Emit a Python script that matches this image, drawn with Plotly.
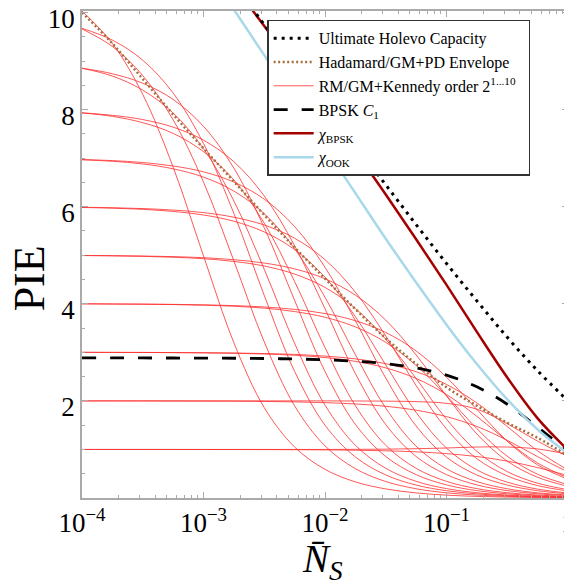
import plotly.graph_objects as go

# photon number grid (x) shared by most series
ns_grid = [1e-4, 1.778e-4, 3.162e-4, 5.623e-4, 1e-3, 1.778e-3, 3.162e-3, 5.623e-3,
           1e-2, 1.778e-2, 3.162e-2, 5.623e-2, 0.1, 0.1778, 0.3162, 0.5623, 1.0]

# Hadamard/GM+PD individual orders (red thin)
had_1 = [1.0, 1.0, 1.0, 0.999, 0.999, 0.998, 0.997, 0.995, 0.991, 0.984, 0.972, 0.951, 0.914, 0.854, 0.760, 0.626, 0.460]
had_2 = [2.0, 2.0, 1.999, 1.998, 1.996, 1.994, 1.989, 1.980, 1.964, 1.937, 1.889, 1.809, 1.676, 1.473, 1.188, 0.851, 0.535]
had_3 = [3.0, 2.998, 2.997, 2.994, 2.989, 2.981, 2.966, 2.940, 2.893, 2.815, 2.679, 2.462, 2.131, 1.682, 1.173, 0.721, 0.412]
had_4 = [4.0, 3.995, 3.991, 3.984, 3.971, 3.949, 3.910, 3.840, 3.722, 3.524, 3.205, 2.731, 2.106, 1.429, 0.860, 0.488, 0.275]
had_5 = [4.993, 4.987, 4.977, 4.959, 4.928, 4.872, 4.778, 4.612, 4.337, 3.903, 3.268, 2.461, 1.624, 0.960, 0.543, 0.305, 0.172]
had_6 = [5.983, 5.969, 5.945, 5.902, 5.829, 5.700, 5.479, 5.117, 4.547, 3.736, 2.741, 1.763, 1.027, 0.579, 0.326, 0.183, 0.103]
had_7 = [6.965, 6.935, 6.880, 6.780, 6.609, 6.321, 5.856, 5.135, 4.134, 2.953, 1.852, 1.067, 0.601, 0.338, 0.190, 0.107, 0.060]
had_8 = [7.930, 7.860, 7.730, 7.510, 7.134, 6.550, 5.660, 4.459, 3.099, 1.900, 1.085, 0.611, 0.343, 0.193, 0.109, 0.061, 0.034]
had_9 = [8.850, 8.690, 8.400, 7.930, 7.194, 6.119, 4.709, 3.185, 1.913, 1.086, 0.611, 0.344, 0.193, 0.109, 0.061, 0.034, 0.019]
had_10 = [9.660, 9.300, 8.700, 7.790, 6.506, 4.884, 3.215, 1.898, 1.073, 0.604, 0.339, 0.191, 0.107, 0.060, 0.034, 0.019, 0.011]
had_11 = [10.03, 9.363, 8.312, 6.816, 4.986, 3.199, 1.861, 1.050, 0.590, 0.332, 0.187, 0.105, 0.059, 0.033, 0.019, 0.011, 0.006]

# RM/GM+Kennedy orders 2^1..2^10 (red thin)
rm_1 = [1.0, 1.0, 1.0, 1.0, 1.0, 1.0, 1.0, 1.0, 1.0, 1.002, 1.006, 1.015, 1.03, 1.05, 1.05, 1.01, 0.90]
rm_2 = [2.0, 2.0, 2.0, 2.0, 2.0, 2.0, 2.0, 2.0, 2.0, 1.998, 1.995, 1.985, 1.95, 1.83, 1.53, 1.17, 0.85]
rm_3 = [3.0, 2.999, 2.998, 2.996, 2.992, 2.986, 2.975, 2.957, 2.923, 2.865, 2.766, 2.601, 2.339, 1.958, 1.472, 0.971, 0.574]
rm_4 = [3.999, 3.996, 3.993, 3.988, 3.979, 3.963, 3.934, 3.885, 3.799, 3.652, 3.409, 3.029, 2.487, 1.823, 1.171, 0.682, 0.385]
rm_5 = [4.995, 4.991, 4.984, 4.971, 4.949, 4.908, 4.839, 4.719, 4.515, 4.179, 3.664, 2.947, 2.104, 1.318, 0.759, 0.427, 0.240]
rm_6 = [5.988, 5.978, 5.961, 5.930, 5.878, 5.783, 5.622, 5.350, 4.909, 4.240, 3.337, 2.317, 1.420, 0.810, 0.456, 0.256, 0.144]
rm_7 = [6.971, 6.949, 6.909, 6.838, 6.717, 6.507, 6.155, 5.590, 4.752, 3.653, 2.469, 1.482, 0.841, 0.473, 0.266, 0.150, 0.084]
rm_8 = [7.934, 7.881, 7.794, 7.638, 7.370, 6.926, 6.221, 5.196, 3.897, 2.563, 1.513, 0.855, 0.481, 0.270, 0.152, 0.086, 0.048]
rm_9 = [8.852, 8.738, 8.542, 8.208, 7.655, 6.793, 5.567, 4.070, 2.607, 1.517, 0.855, 0.481, 0.270, 0.152, 0.086, 0.048, 0.027]
rm_10 = [9.674, 9.431, 9.017, 8.340, 7.302, 5.861, 4.172, 2.608, 1.500, 0.845, 0.475, 0.267, 0.150, 0.085, 0.048, 0.027, 0.015]

# Hadamard/GM+PD envelope (brown dotted)
envelope = [10.0, 9.36, 8.63, 7.90, 7.20, 6.52, 5.83, 5.16, 4.52, 3.89, 3.29, 2.76, 2.28, 1.90, 1.55, 1.24, 0.87]

# BPSK C1 (black dashed)
bpsk_c1 = [2.885, 2.884, 2.884, 2.883, 2.881, 2.878, 2.873, 2.863, 2.846, 2.817, 2.767, 2.678, 2.530, 2.290, 1.931, 1.459, 0.958]

# high-N grid for the capacity curves that enter from the top
ns_high = [1e-3, 1.778e-3, 3.162e-3, 5.623e-3, 1e-2, 1.778e-2, 3.162e-2, 5.623e-2,
           0.1, 0.1778, 0.3162, 0.5623, 1.0]
holevo = [11.41, 10.58, 9.75, 8.92, 8.09, 7.27, 6.45, 5.63, 4.83, 4.06, 3.31, 2.62, 2.00]
chi_bpsk = [11.40, 10.56, 9.72, 8.87, 8.01, 7.14, 6.25, 5.33, 4.39, 3.42, 2.48, 1.64, 0.987]
chi_ook = [10.97, 10.06, 9.12, 8.17, 7.22, 6.28, 5.34, 4.44, 3.57, 2.76, 2.03, 1.41, 0.913]

x_ticks = [1e-4, 1e-3, 1e-2, 1e-1, 1]
x_ticktext = ["10<sup>\u22124</sup>", "10<sup>\u22123</sup>", "10<sup>\u22122</sup>", "10<sup>\u22121</sup>", "1"]
y_ticks = [2, 4, 6, 8, 10]

RED = "rgba(255,45,45,0.8)"
SERIF = "Liberation Serif"
GREY = "rgb(170,170,170)"

fig = go.Figure()

had_all = [had_1, had_2, had_3, had_4, had_5, had_6, had_7, had_8, had_9, had_10, had_11]
for ys in had_all:
    fig.add_trace(go.Scatter(x=ns_grid, y=ys, mode="lines", line=dict(color=RED, width=1, shape="spline"),
                             showlegend=False, hoverinfo="skip"))

rm_all = [rm_1, rm_2, rm_3, rm_4, rm_5, rm_6, rm_7, rm_8, rm_9, rm_10]
for i, ys in enumerate(rm_all):
    fig.add_trace(go.Scatter(x=ns_grid, y=ys, mode="lines", line=dict(color=RED, width=1, shape="spline"),
                             name="RM/GM+Kennedy order 2<sup>1...10</sup>\u00a0\u00a0", showlegend=(i == 0),
                             legendrank=3, hoverinfo="skip"))

fig.add_trace(go.Scatter(x=ns_grid, y=envelope, mode="lines", name="Hadamard/GM+PD Envelope",
                         line=dict(color="rgb(165,110,60)", width=2.5, dash="2px,2.5px", shape="spline"),
                         legendrank=2))
fig.add_trace(go.Scatter(x=ns_grid, y=bpsk_c1, mode="lines", name="BPSK <i>C</i><sub>1</sub>",
                         line=dict(color="black", width=2.8, dash="14px,14px", shape="spline"),
                         legendrank=4))
fig.add_trace(go.Scatter(x=ns_high, y=chi_ook, mode="lines", name="<i>\u03c7</i><sub>OOK</sub>",
                         line=dict(color="rgb(168,216,234)", width=2.5, shape="spline"),
                         legendrank=6))
fig.add_trace(go.Scatter(x=ns_high, y=chi_bpsk, mode="lines", name="<i>\u03c7</i><sub>BPSK</sub>",
                         line=dict(color="rgb(165,0,0)", width=2.5, shape="spline"),
                         legendrank=5))
fig.add_trace(go.Scatter(x=ns_high, y=holevo, mode="lines", name="Ultimate Holevo Capacity",
                         line=dict(color="black", width=3, dash="3px,5px", shape="spline"),
                         legendrank=1))

axis_common = dict(showline=True, linecolor=GREY, linewidth=1.5, mirror="ticks",
                   ticks="inside", tickcolor=GREY, ticklen=6, showgrid=False, zeroline=False,
                   automargin=False, ticklabeloverflow="allow",
                   tickfont=dict(family=SERIF, size=27, color="black"))

fig.update_xaxes(type="log", range=[-4, 0], tickvals=x_ticks, ticktext=x_ticktext,
                 minor=dict(ticks="inside", ticklen=3, dtick="D1", tickcolor=GREY, showgrid=False),
                 **axis_common)
fig.update_yaxes(range=[0, 10.03], tickvals=y_ticks, ticklabelshift=6,
                 minor=dict(ticks="inside", ticklen=3, dtick=0.5, tick0=0, tickcolor=GREY, showgrid=False),
                 **axis_common)

fig.add_annotation(text="PIE", xref="paper", yref="paper", x=-0.108, y=0.45, showarrow=False,
                   textangle=-90, font=dict(family=SERIF, size=44, color="black"), xanchor="center", yanchor="middle")
fig.add_annotation(text="<i>N\u0304</i><sub><i>S</i></sub>", xref="paper", yref="paper", x=0.494, y=-0.075,
                   showarrow=False, font=dict(family=SERIF, size=39, color="black"), xanchor="center", yanchor="top")

# the page body adds an 8px offset, so the figure is 8px smaller and shifted
fig.update_layout(width=564, height=575, margin=dict(l=74, r=4, t=3, b=85, autoexpand=False),
                  paper_bgcolor="white", plot_bgcolor="white",
                  font=dict(family=SERIF, color="black"),
                  legend=dict(x=0.381, y=0.982, xanchor="left", yanchor="top", bgcolor="white",
                              bordercolor="rgb(50,50,50)", borderwidth=1.5, font=dict(family=SERIF, size=16),
                              itemwidth=40, traceorder="normal"))

fig.write_html("out.html")
